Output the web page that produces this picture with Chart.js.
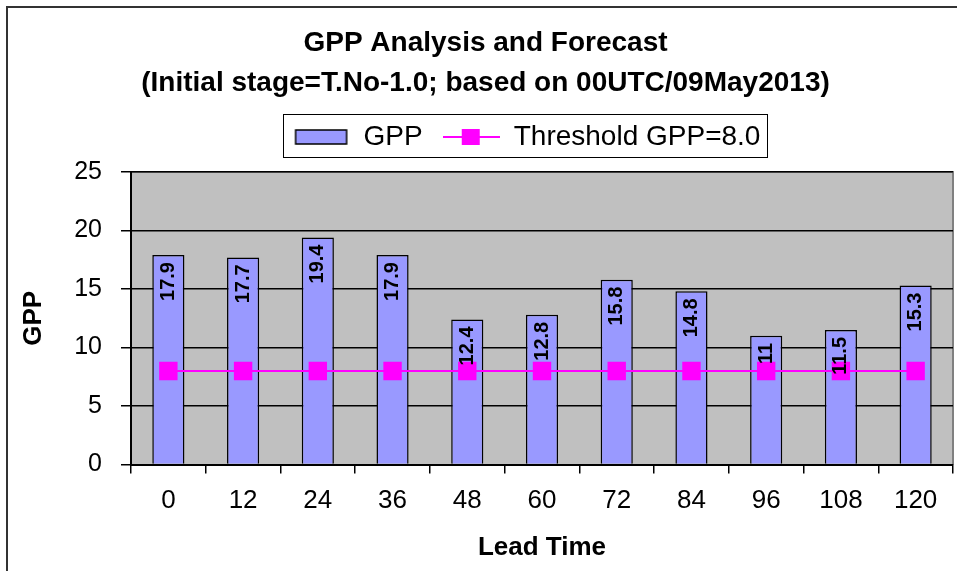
<!DOCTYPE html>
<html>
<head>
<meta charset="utf-8">
<script src="https://cdn.jsdelivr.net/npm/chart.js@4"></script>
<style>
    html, body { margin: 0; padding: 0; background: #fff; overflow: hidden; }
    #wrap { position: relative; width: 957px; height: 571px; }
    #frame {
        position: absolute; left: 6px; top: 6px; width: 1000px; height: 700px;
        border-left: 2px solid #333; border-top: 2px solid #333; pointer-events: none;
    }
</style>
</head>
<body>
<div id="wrap">
    <canvas id="gppChart" width="957" height="571"></canvas>
    <div id="frame"></div>
</div>
<script>
const lead_times = ['0', '12', '24', '36', '48', '60', '72', '84', '96', '108', '120'];
const gpp_values = [17.9, 17.7, 19.4, 17.9, 12.4, 12.8, 15.8, 14.8, 11, 11.5, 15.3];
const threshold_values = [8, 8, 8, 8, 8, 8, 8, 8, 8, 8, 8];
const title_lines = ['GPP Analysis and Forecast', '(Initial stage=T.No-1.0; based on 00UTC/09May2013)'];

const FONT = 'Arial, "Liberation Sans", sans-serif';
const LEGEND_SHIFT = 41;
const LEGEND_EXTRA = 11;

function makeSwatch(kind) {
    let c = document.createElement('canvas');
    c.width = 57;
    c.height = 20;
    let g = c.getContext('2d');
    if (kind === 'bar') {
        g.fillStyle = '#9999FF';
        g.fillRect(3, 3, 51, 14);
        g.strokeStyle = '#000';
        g.lineWidth = 1.5;
        g.strokeRect(3, 3, 51, 14);
    } else {
        g.strokeStyle = '#FF00FF';
        g.lineWidth = 2;
        g.beginPath();
        g.moveTo(0, 10);
        g.lineTo(57, 10);
        g.stroke();
        g.fillStyle = '#FF00FF';
        g.fillRect(19, 2, 18, 16);
    }
    return c;
}

// gray plot area with a thin border on the top and right
const plotBackground = {
    id: 'plotBackground',
    beforeDraw(chart) {
        let {ctx, chartArea: a} = chart;
        ctx.save();
        ctx.fillStyle = '#C0C0C0';
        ctx.fillRect(a.left, a.top, a.right - a.left, a.bottom - a.top);
        ctx.strokeStyle = '#808080';
        ctx.lineWidth = 2;
        ctx.beginPath();
        ctx.moveTo(a.left, a.top);
        ctx.lineTo(a.right, a.top);
        ctx.lineTo(a.right, a.bottom);
        ctx.stroke();
        ctx.restore();
    }
};

// legend sits a little right of centre, inside a box, with some room below it
const legendBox = {
    id: 'legendBox',
    beforeLayout(chart) {
        let lg = chart.legend;
        if (lg && !lg._padded) {
            let origFit = lg.fit;
            lg.fit = function () {
                origFit.call(this);
                this.height += LEGEND_EXTRA;
            };
            lg._padded = true;
        }
    },
    afterLayout(chart) {
        let lg = chart.legend;
        lg.left += LEGEND_SHIFT;
        lg.right += LEGEND_SHIFT;
        (lg.legendHitBoxes || []).forEach(b => { b.left += LEGEND_SHIFT; });
    },
    afterDraw(chart) {
        let boxes = chart.legend.legendHitBoxes;
        if (!boxes || !boxes.length) return;
        let left = Math.min(...boxes.map(b => b.left)) - 10;
        let right = Math.max(...boxes.map(b => b.left + b.width)) + 6;
        let top = Math.min(...boxes.map(b => b.top)) - 9;
        let bottom = Math.max(...boxes.map(b => b.top + b.height)) + 6;
        let ctx = chart.ctx;
        ctx.save();
        ctx.strokeStyle = '#000';
        ctx.lineWidth = 1;
        ctx.strokeRect(Math.round(left) + 0.5, Math.round(top) + 0.5, Math.round(right - left), Math.round(bottom - top));
        ctx.restore();
    }
};

// vertical value labels inside the top of each bar
const barLabels = {
    id: 'barLabels',
    afterDatasetsDraw(chart) {
        let ctx = chart.ctx;
        let idx = chart.data.datasets.findIndex(ds => ds.type === 'bar');
        let meta = chart.getDatasetMeta(idx);
        ctx.save();
        ctx.font = 'bold 20px ' + FONT;
        ctx.fillStyle = '#000';
        ctx.textAlign = 'right';
        ctx.textBaseline = 'middle';
        meta.data.forEach((bar, i) => {
            ctx.save();
            ctx.translate(bar.x, bar.y + 7);
            ctx.rotate(-Math.PI / 2);
            ctx.fillText(String(gpp_values[i]), 0, 0);
            ctx.restore();
        });
        ctx.restore();
    }
};

new Chart(document.getElementById('gppChart').getContext('2d'), {
    data: {
        labels: lead_times,
        datasets: [{
            type: 'line',
            label: 'Threshold GPP=8.0',
            data: threshold_values,
            borderColor: '#FF00FF',
            backgroundColor: '#FF00FF',
            borderWidth: 2,
            pointStyle: 'rect',
            pointRadius: 13,
            pointBorderWidth: 0,
            order: 1
        }, {
            type: 'bar',
            label: 'GPP',
            data: gpp_values,
            backgroundColor: '#9999FF',
            borderColor: '#000',
            borderWidth: 1.5,
            barPercentage: 0.43,
            categoryPercentage: 1,
            order: 2
        }]
    },
    options: {
        responsive: false,
        animation: false,
        layout: {
            autoPadding: false,
            padding: {left: 18, right: 4, top: 24, bottom: 8}
        },
        plugins: {
            title: {
                display: true,
                text: title_lines,
                color: '#000',
                font: {family: FONT, size: 28, weight: 'bold', lineHeight: 1.41},
                padding: {top: 0, bottom: 0}
            },
            legend: {
                display: true,
                reverse: true,
                labels: {
                    color: '#000',
                    font: {family: FONT, size: 28},
                    usePointStyle: true,
                    pointStyleWidth: 57,
                    boxHeight: 20,
                    padding: 20,
                    generateLabels(chart) {
                        return chart.data.datasets.map((ds, i) => ({
                            text: ds.label,
                            datasetIndex: i,
                            pointStyle: makeSwatch(ds.type),
                            fillStyle: ds.backgroundColor,
                            strokeStyle: ds.borderColor,
                            lineWidth: 0,
                            hidden: false
                        }));
                    }
                }
            },
            tooltip: {enabled: false}
        },
        scales: {
            x: {
                offset: true,
                afterFit(scale) {
                    scale.paddingLeft = 0;
                    scale.paddingRight = 0;
                },
                grid: {
                    display: true,
                    offset: true,
                    drawOnChartArea: false,
                    color: '#000',
                    tickLength: 9,
                    lineWidth: 1.5
                },
                border: {color: '#000', width: 2},
                ticks: {
                    color: '#000',
                    font: {family: FONT, size: 26},
                    padding: 12,
                    maxRotation: 0
                },
                title: {
                    display: true,
                    text: 'Lead Time',
                    color: '#000',
                    font: {family: FONT, size: 26, weight: 'bold'},
                    padding: {top: 3, bottom: 0}
                }
            },
            y: {
                min: 0,
                max: 25,
                afterFit(scale) {
                    scale.width = 113;
                },
                grid: {
                    color: '#000',
                    lineWidth: 1.5,
                    tickLength: 10
                },
                border: {color: '#000', width: 2},
                ticks: {
                    stepSize: 5,
                    color: '#000',
                    font: {family: FONT, size: 25},
                    padding: 19
                },
                title: {
                    display: true,
                    text: 'GPP',
                    color: '#000',
                    font: {family: FONT, size: 26, weight: 'bold'},
                    padding: {top: 0, bottom: 20}
                }
            }
        }
    },
    plugins: [plotBackground, legendBox, barLabels]
});
</script>
</body>
</html>
